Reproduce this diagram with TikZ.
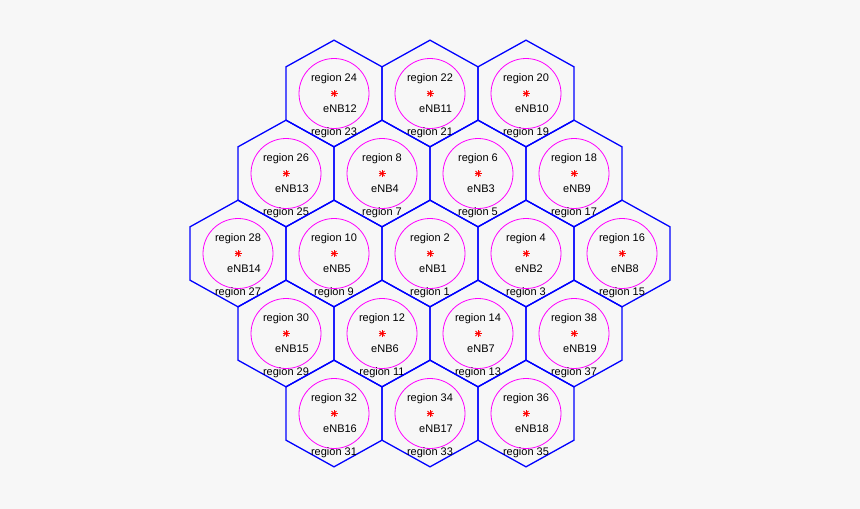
\documentclass[tikz,border=0pt]{standalone}
\usepackage{fontspec}
\setmainfont{Liberation Sans}
\definecolor{bggray}{RGB}{247,247,247}
\definecolor{hexblue}{RGB}{0,0,255}
\definecolor{covmagenta}{RGB}{255,0,255}
\begin{document}
\begin{tikzpicture}[
    x=1pt, y=-1pt,
    hexcell/.style={draw=hexblue, line width=1.3pt, line join=miter},
    covcircle/.style={draw=covmagenta, line width=0.8pt},
    sitestar/.style={draw=red, line width=1pt},
    celltext/.style={font=\fontsize{11}{13}\selectfont, inner sep=0pt},
    enbtext/.style={celltext, anchor=west},
]
% --- Canvas ---
\fill[bggray] (0,0) rectangle (860,509);
\useasboundingbox (0,0) rectangle (860,509);

% --- Cells: centre x / centre y / eNB number ---
\foreach \cx/\cy/\k in {
    334/93.5/12, 430/93.5/11, 526/93.5/10,
    286/173.5/13, 382/173.5/4, 478/173.5/3, 574/173.5/9,
    238/253.5/14, 334/253.5/5, 430/253.5/1, 526/253.5/2, 622/253.5/8,
    286/333.5/15, 382/333.5/6, 478/333.5/7, 574/333.5/19,
    334/413.5/16, 430/413.5/17, 526/413.5/18}{
  \pgfmathtruncatemacro{\rt}{2*\k}
  \pgfmathtruncatemacro{\rb}{2*\k-1}
  % hexagon and coverage circle
  \draw[hexcell] ({\cx+48},{\cy-26.67}) -- (\cx,{\cy-53.33}) -- ({\cx-48},{\cy-26.67})
    -- ({\cx-48},{\cy+26.67}) -- (\cx,{\cy+53.33}) -- ({\cx+48},{\cy+26.67}) -- cycle;
  \coordinate (site\k) at (\cx,\cy);
  \draw[covcircle] (site\k) circle (35);
  % base station marker
  \draw[sitestar] ([xshift=-3.5pt]site\k) -- ([xshift=3.5pt]site\k);
  \draw[sitestar] ([yshift=-3.5pt]site\k) -- ([yshift=3.5pt]site\k);
  \draw[sitestar] ([shift={(-2.5pt,-2.5pt)}]site\k) -- ([shift={(2.5pt,2.5pt)}]site\k);
  \draw[sitestar] ([shift={(-2.5pt,2.5pt)}]site\k) -- ([shift={(2.5pt,-2.5pt)}]site\k);
  % labels
  \node[celltext] (rtop\k) at (\cx,{\cy-14.5}) {region \rt};
  \node[enbtext] (enb\k) at ({\cx-11},{\cy+15}) {eNB\k};
  \node[celltext] (rbot\k) at (\cx,{\cy+39.5}) {region \rb};
}
\end{tikzpicture}
\end{document}
